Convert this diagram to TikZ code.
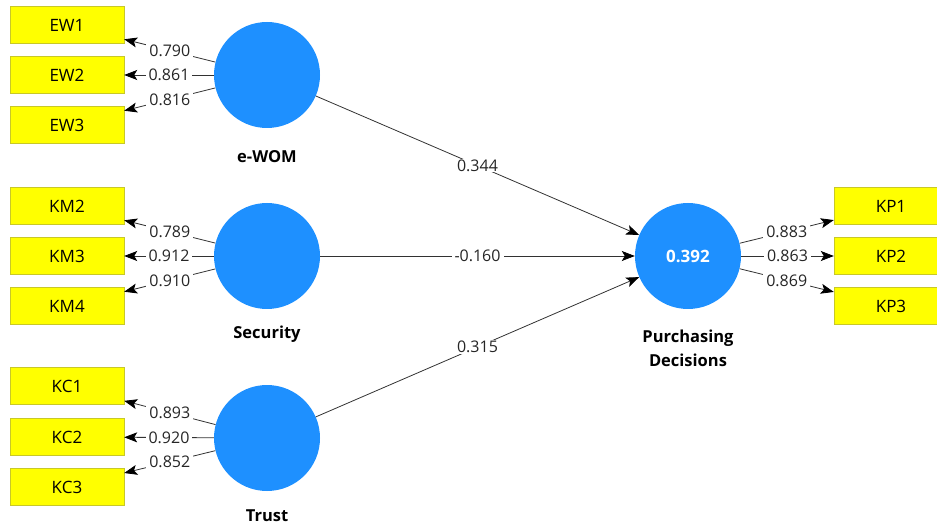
\documentclass[tikz,border=0pt]{standalone}
\usepackage{fontspec}
\setmainfont{Open Sans}
\usetikzlibrary{arrows.meta}

\definecolor{lvblue}{RGB}{30,144,255}
\definecolor{mvyellow}{RGB}{255,255,0}
\definecolor{mvedge}{RGB}{200,200,40}
\definecolor{pathgray}{RGB}{50,50,50}

\begin{document}
\begin{tikzpicture}[x=1pt,y=-1pt,font=\fontsize{16}{19}\selectfont]
\useasboundingbox (0,0) rectangle (937,529);
\clip (0,0) rectangle (937,529);

% latent variables
\begin{scope}[every node/.style={circle,fill=lvblue,minimum size=106pt,inner sep=0pt}]
    \node (EWOM) at (267,75) {};
    \node (SEC) at (267,256) {};
    \node (TRU) at (267,438) {};
    \node (PD) at (688,256) {\textcolor{white}{\fontsize{17}{19}\selectfont\bfseries 0.392}};
\end{scope}

\begin{scope}[every node/.style={font=\fontsize{16.5}{24}\selectfont\bfseries,align=center}]
    \node (lEWOM) at (267,157) {e-WOM};
    \node (lSEC) at (267,334) {Security};
    \node (lTRU) at (267,516) {Trust};
    \node (lPD) at (688,348) {Purchasing\\Decisions};
\end{scope}

% indicators
\begin{scope}[every node/.style={rectangle,draw=mvedge,fill=mvyellow,minimum width=114pt,minimum height=37pt,inner sep=0pt,font=\fontsize{17}{19}\selectfont}]
    \node (EW1) at (67,25) {EW1};
    \node (EW2) at (67,75) {EW2};
    \node (EW3) at (67,125) {EW3};
    \node (KM2) at (67,206) {KM2};
    \node (KM3) at (67,256) {KM3};
    \node (KM4) at (67,306) {KM4};
    \node (KC1) at (67,386) {KC1};
    \node (KC2) at (67,437) {KC2};
    \node (KC3) at (67,487) {KC3};
    \node (KP1) at (891,206) {KP1};
    \node (KP2) at (891,256) {KP2};
    \node (KP3) at (891,306) {KP3};
\end{scope}

\begin{scope}[>={Stealth[black,length=13pt,width=10pt,inset=3pt]},
              every node/.style={fill=white,inner xsep=3pt,inner ysep=1pt,text=black!85},
              every edge/.style={draw=pathgray,line width=0.8pt}]
    \path [->] (EWOM) edge node {0.790} (EW1);
    \path [->] (EWOM) edge node {0.861} (EW2);
    \path [->] (EWOM) edge node {0.816} (EW3);

    \path [->] (SEC) edge node {0.789} (KM2);
    \path [->] (SEC) edge node {0.912} (KM3);
    \path [->] (SEC) edge node {0.910} (KM4);

    \path [->] (TRU) edge node {0.893} (KC1);
    \path [->] (TRU) edge node {0.920} (KC2);
    \path [->] (TRU) edge node {0.852} (KC3);

    \path [->] (PD) edge node {0.883} (KP1);
    \path [->] (PD) edge node {0.863} (KP2);
    \path [->] (PD) edge node {0.869} (KP3);

    \path [->] (EWOM) edge node {0.344} (PD);
    \path [->] (SEC) edge node {-0.160} (PD);
    \path [->] (TRU) edge node {0.315} (PD);
\end{scope}
\end{tikzpicture}
\end{document}
